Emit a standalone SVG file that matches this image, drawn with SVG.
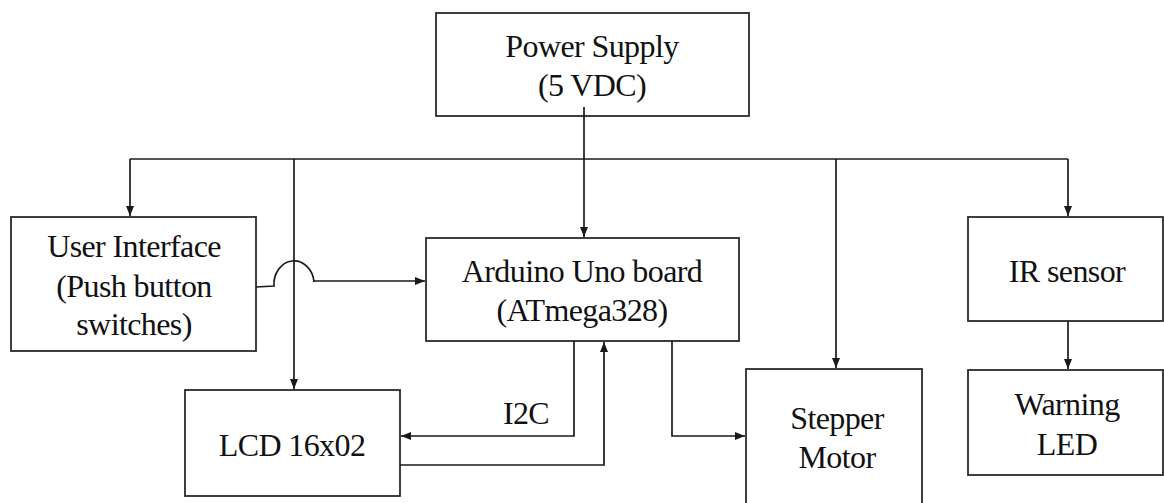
<svg xmlns="http://www.w3.org/2000/svg" width="1164" height="503" viewBox="0 0 1164 503">
<style>
.box{fill:#fff;stroke:#2a2a2a;stroke-width:1.8}
.t{font-family:'Liberation Serif','DejaVu Serif',serif;font-size:32px;letter-spacing:-0.6px;fill:#111;text-anchor:middle}
.c{fill:none;stroke:#1a1a1a;stroke-width:1.7}
</style>
<defs>
<marker id="ah" markerUnits="userSpaceOnUse" markerWidth="10" markerHeight="8" refX="10" refY="4" orient="auto">
<path d="M0,0 L10,4 L0,8 z" fill="#1a1a1a"/>
</marker>
</defs>
<rect width="1164" height="503" fill="#fff"/>
<g id="power">
<rect class="box" x="436" y="13" width="313" height="103"/>
<text class="t" x="592" y="57">Power Supply</text>
<text class="t" x="592" y="96">(5 VDC)</text>
</g>
<g id="ui">
<rect class="box" x="11" y="217" width="245" height="134"/>
<text class="t" x="134" y="257">User Interface</text>
<text class="t" x="134" y="297">(Push button</text>
<text class="t" x="134" y="335">switches)</text>
</g>
<g id="arduino">
<rect class="box" x="426" y="238" width="313" height="103"/>
<text class="t" x="582" y="282">Arduino Uno board</text>
<text class="t" x="582" y="321">(ATmega328)</text>
</g>
<g id="ir">
<rect class="box" x="968" y="217" width="195" height="104"/>
<text class="t" x="1067" y="282">IR sensor</text>
</g>
<g id="led">
<rect class="box" x="968" y="370" width="195" height="105"/>
<text class="t" x="1067" y="415">Warning</text>
<text class="t" x="1067" y="455">LED</text>
</g>
<g id="lcd">
<rect class="box" x="185" y="390" width="215" height="106"/>
<text class="t" x="292" y="456">LCD 16x02</text>
</g>
<g id="stepper">
<rect class="box" x="746" y="369" width="176" height="150"/>
<text class="t" x="837" y="429">Stepper</text>
<text class="t" x="837" y="468">Motor</text>
</g>
<g id="connectors">
<path class="c" d="M130 159 L1068 159"/>
<path class="c" d="M584 107 L584 237" marker-end="url(#ah)"/>
<path class="c" d="M130 159 L130 216" marker-end="url(#ah)"/>
<path class="c" d="M294 159 L294 389" marker-end="url(#ah)"/>
<path class="c" d="M836 159 L836 368" marker-end="url(#ah)"/>
<path class="c" d="M1068 159 L1068 216" marker-end="url(#ah)"/>
<path class="c" d="M1068 321 L1068 369" marker-end="url(#ah)"/>
<path class="c" d="M256 287 L274 286 A20 23 0 0 1 314 282 L314 281 L425 281" marker-end="url(#ah)"/>
<path class="c" d="M574 341 L574 436 L401 436" marker-end="url(#ah)"/>
<path class="c" d="M400 465 L604 465 L604 342" marker-end="url(#ah)"/>
<path class="c" d="M672 341 L672 436 L745 436" marker-end="url(#ah)"/>
<text class="t" x="526" y="424">I2C</text>
</g>
</svg>
